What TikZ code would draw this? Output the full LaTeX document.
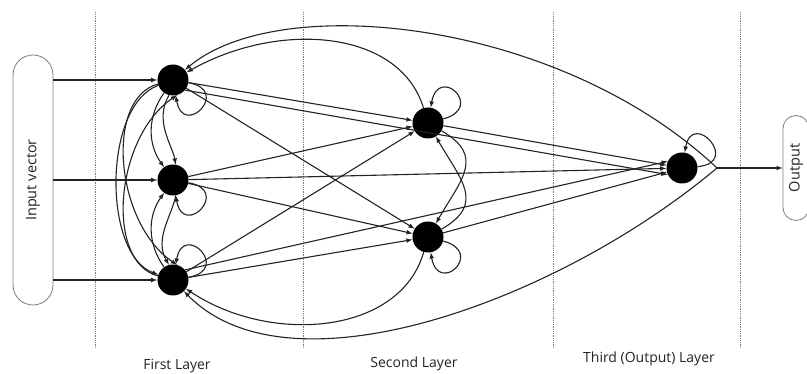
\documentclass[tikz,border=0pt]{standalone}
\usepackage{fontspec}
\setmainfont{Open Sans}
\usepackage{tikz, graphicx}
\definecolor{netgray}{RGB}{35,35,35}
\definecolor{boxgray}{RGB}{125,125,125}
\usetikzlibrary{arrows}

\begin{document}
\begin{tikzpicture}[neuron/.style={circle, fill=black, minimum size=31pt, inner sep=0pt},
				link/.style={->, draw=netgray, line width=1.1pt},
				selfloop/.style={->, draw=netgray, line width=1.1pt, looseness=1, min distance=44pt},
				layer/.style={densely dotted, draw=boxgray, line width=0.8pt},
				iobox/.style={draw=boxgray, line width=0.8pt, inner sep=0pt, text=netgray, font=\fontsize{14.5}{16}\selectfont},
				x=1pt, y=1pt,
				>=latex,   %Pfeilspitzen
				font=\fontsize{14}{16}\selectfont]
				\useasboundingbox (0,0) rectangle (807,374);
				%Schichtgrenzen
				\foreach \x in {95,303,553,740} \draw[layer] (\x,26) -- (\x,362);
				\node[text=netgray] (lab1) at (177,8) {First Layer};
				\node[text=netgray] (lab2) at (414,10) {Second Layer};
				\node[text=netgray] (lab3) at (649,15) {Third (Output) Layer};
				%Ein- und Ausgabe
				\node[iobox, rounded corners=20pt, minimum width=40pt, minimum height=250pt] (inp) at (33,194) {\rotatebox{90}{Input vector}};
				\node[iobox, rounded corners=13pt, minimum width=26pt, minimum height=105pt] (outp) at (796,206) {\rotatebox{90}{Output}};
				%Neuronen
				\node[neuron] (L1a) at (173,294) {};
				\node[neuron] (L1b) at (173,194) {};
				\node[neuron] (L1c) at (173,94) {};
				\node[neuron] (L2a) at (428,251) {};
				\node[neuron] (L2b) at (428,137) {};
				\node[neuron] (L3) at (682,206) {};
				\coordinate (tip) at (717,206);
				%Verbindungen vorwaerts
				\foreach \n in {L1a,L1b,L1c} \draw[link] (inp.east |- \n) -- (\n);
				\foreach \s in {L1a,L1b,L1c} \foreach \t in {L2a,L2b} \draw[link] (\s) -- (\t);
				\draw[link] (L1a.-40) -- (L3.205);
				\draw[link] (L1b) -- (L3);
				\draw[link] (L1c.40) -- (L3.155);
				\foreach \s in {L2a,L2b} \draw[link] (\s) -- (L3);
				\draw[link] (tip) -- (outp);
				%Rueckkopplung zur ersten Schicht
				\draw[link] (tip) .. controls (560,354) and (280,384) .. (L1a);
				\draw[link] (L2a) .. controls (400,344) and (280,354) .. (L1a);
				\draw[link] (L2b) .. controls (400,39) and (270,29) .. (L1c);
				\draw[link] (tip) .. controls (560,74) and (290,-26) .. (L1c);
				%Querverbindungen innerhalb der Schichten
				\draw[link] (L1a) to[out=200,in=160,looseness=0.8] (L1c);
				\draw[link] (L1c.165) .. controls +(165:55) and +(214:75) .. (L1a.-75);
				\draw[link] (L1a.195) .. controls +(195:55) and +(146:75) .. (L1c.75);
				\draw[link] (L1a) to[out=235,in=125] (L1b);
				\draw[link] (L1c) to[out=125,in=235] (L1b);
				\draw[link] (L1a.-105) .. controls +(-120:30) and +(100:20) .. (L1b.80);
				\draw[link] (L1b.-80) .. controls +(-100:20) and +(120:30) .. (L1c.105);
				\draw[link] (L2a) to[out=-30,in=60,looseness=1.4] (L2b);
				\draw[link] (L2b) to[out=30,in=-60,looseness=1.4] (L2a);
				%Eigenrueckkopplung
				\draw[selfloop] (L1a) to[out=-10,in=-80] (L1a);
				\draw[selfloop] (L1b) to[out=-10,in=-80] (L1b);
				\draw[selfloop] (L1c) to[out=10,in=80] (L1c);
				\draw[selfloop] (L2a) to[out=15,in=80] (L2a);
				\draw[selfloop] (L2b) to[out=-15,in=-80] (L2b);
				\draw[selfloop] (L3) to[out=5,in=80] (L3);
			\end{tikzpicture}
\end{document}
